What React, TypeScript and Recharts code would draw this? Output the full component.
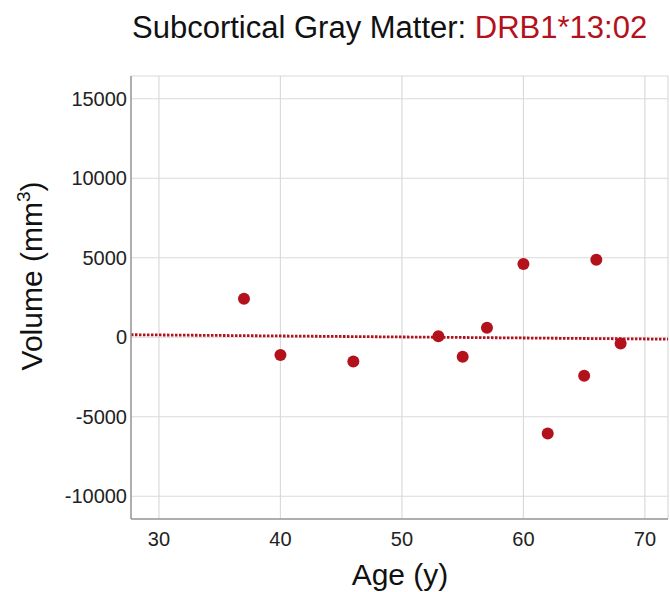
import React from "react"
import {
  CartesianGrid,
  Label,
  ReferenceLine,
  Scatter,
  ScatterChart,
  XAxis,
  YAxis,
} from "recharts"

// age (years) and subcortical gray matter volume residual (mm³)
const ages = [37, 40, 46, 53, 55, 57, 60, 62, 65, 66, 68]
const volumes = [2420, -1120, -1520, 60, -1230, 600, 4600, -6050, -2420, 4870, -390]

const xTicks = [30, 40, 50, 60, 70]
const yTicks = [-10000, -5000, 0, 5000, 10000, 15000]
const xDomain: [number, number] = [27.7, 71.9]
const yDomain: [number, number] = [-11430, 16430]

const RED = "#b3121c"
const FONT = "'Liberation Sans', Arial, sans-serif"

const points = ages.map((age, i) => ({ age, volume: volumes[i] }))

// least-squares fit line, spanning the full x range like the original
const n = ages.length
const mx = ages.reduce((s, v) => s + v, 0) / n
const my = volumes.reduce((s, v) => s + v, 0) / n
const sxy = ages.reduce((s, v, i) => s + (v - mx) * (volumes[i] - my), 0)
const sxx = ages.reduce((s, v) => s + (v - mx) ** 2, 0)
const slope = sxy / sxx
const intercept = my - slope * mx
const fit = xDomain.map((x) => ({ x, y: intercept + slope * x }))

const Dot = (props: any) => <circle cx={props.cx} cy={props.cy} r={6} fill={RED} />

export default function App() {
  return (
    <div style={{ position: "absolute", left: 0, top: 0, width: 670, height: 592, background: "#fff" }}>
      <svg width={670} height={60} style={{ position: "absolute", left: 0, top: 0 }}>
        <text x={132} y={38} fontFamily={FONT} fontSize={31} fill="#111">
          Subcortical Gray Matter: <tspan fill={RED}>DRB1*13:02</tspan>
        </text>
      </svg>
      <ScatterChart
        width={670}
        height={592}
        margin={{ top: 76, right: 2, bottom: 0, left: 51 }}
        style={{ fontFamily: FONT }}
      >
        <CartesianGrid stroke="#dadada" strokeWidth={1.2} />
        <XAxis
          type="number"
          dataKey="age"
          domain={xDomain}
          ticks={xTicks}
          allowDataOverflow
          height={73}
          axisLine={{ stroke: "#9a9a9a", strokeWidth: 1.5 }}
          tickLine={false}
          tickSize={4}
          tickMargin={9}
          tick={{ fill: "#222", fontSize: 20 }}
        >
          <Label
            content={() => (
              <text x={400} y={585} textAnchor="middle" fontFamily={FONT} fontSize={30} fill="#111">
                Age (y)
              </text>
            )}
          />
        </XAxis>
        <YAxis
          type="number"
          dataKey="volume"
          domain={yDomain}
          ticks={yTicks}
          allowDataOverflow
          width={80}
          axisLine={{ stroke: "#9a9a9a", strokeWidth: 1.5 }}
          tickLine={false}
          tickSize={4}
          tickMargin={0}
          tick={{ fill: "#222", fontSize: 20 }}
        >
          <Label
            content={() => (
              <text
                x={42}
                y={276}
                transform="rotate(-90 42 276)"
                textAnchor="middle"
                fontFamily={FONT}
                fontSize={30}
                fill="#111"
              >
                Volume (mm<tspan fontSize={19} dy={-12}>3</tspan>
                <tspan dy={12}>)</tspan>
              </text>
            )}
          />
        </YAxis>
        <ReferenceLine
          segment={fit}
          stroke={RED}
          strokeWidth={2.8}
          strokeDasharray="2.5 1.5"
          ifOverflow="visible"
        />
        <Scatter data={points} fill={RED} isAnimationActive={false} shape={Dot} />
      </ScatterChart>
    </div>
  )
}
